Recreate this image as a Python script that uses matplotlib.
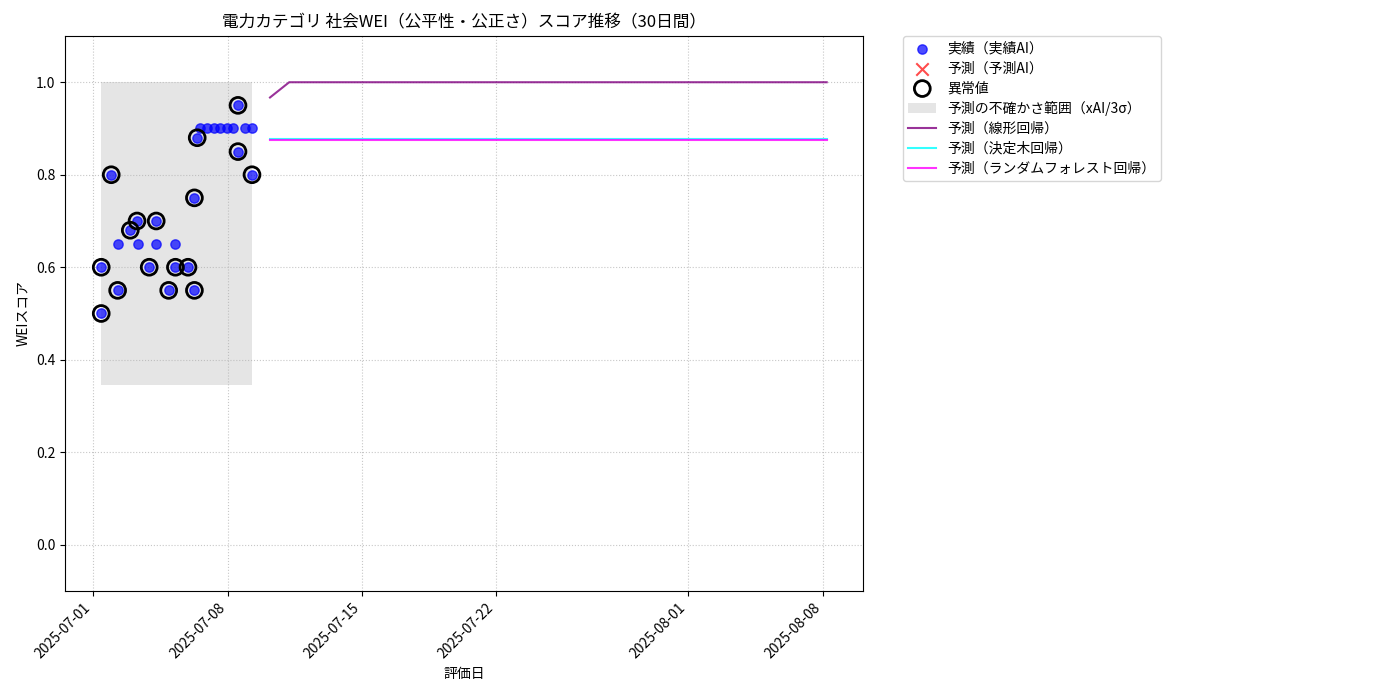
import matplotlib
matplotlib.use("Agg")
import matplotlib.pyplot as plt
import matplotlib.dates as mdates
import pandas as pd
import numpy as np

plt.rcParams['font.family'] = ['Noto Sans CJK JP', 'DejaVu Sans']

# ---- data ----
actual_times = [
    "2025-07-01 10:00", "2025-07-01 10:00", "2025-07-01 22:30",
    "2025-07-02 06:30", "2025-07-02 06:30", "2025-07-02 22:20",
    "2025-07-03 06:45", "2025-07-03 07:30", "2025-07-03 22:00",
    "2025-07-04 06:45", "2025-07-04 06:45", "2025-07-04 22:20",
    "2025-07-05 06:45", "2025-07-05 06:45", "2025-07-05 22:30",
    "2025-07-06 06:30", "2025-07-06 06:30", "2025-07-06 10:00",
    "2025-07-06 14:00", "2025-07-06 22:20", "2025-07-07 06:30",
    "2025-07-07 15:00", "2025-07-07 23:15", "2025-07-08 06:45",
    "2025-07-08 13:00", "2025-07-08 13:00", "2025-07-08 21:20",
    "2025-07-09 06:30", "2025-07-09 06:30",
]
actual_values = [
    0.50, 0.60, 0.80,
    0.55, 0.65, 0.68,
    0.70, 0.65, 0.60,
    0.70, 0.65, 0.55,
    0.60, 0.65, 0.60,
    0.75, 0.55, 0.88,
    0.90, 0.90, 0.90,
    0.90, 0.90, 0.90,
    0.95, 0.85, 0.90,
    0.90, 0.80,
]
outlier_flags = [
    1, 1, 1,
    1, 0, 1,
    1, 0, 1,
    1, 0, 1,
    1, 0, 1,
    1, 1, 1,
    0, 0, 0,
    0, 0, 0,
    1, 1, 0,
    0, 1,
]
band_lower = 0.346
band_upper = 1.0

forecast_start = "2025-07-10 05:00"
n_forecast = 30
linear_pred = [0.967] + [1.0] * 29
tree_pred = [0.878] * 30
forest_pred = [0.875] * 30

title = "電力カテゴリ 社会WEI（公平性・公正さ）スコア推移（30日間）"
xlabel = "評価日"
ylabel = "WEIスコア"

# ---- plot ----
t = pd.to_datetime(actual_times)
v = np.array(actual_values)
o = np.array(outlier_flags, dtype=bool)
ft = pd.date_range(forecast_start, periods=n_forecast, freq="D")

fig = plt.figure(figsize=(14, 7), dpi=100)
ax = fig.add_axes([0.0464, 0.1557, 0.570, 0.7929])

band = ax.fill_between([t.min(), t.max()], band_lower, band_upper,
                       color='gray', alpha=0.2, linewidth=0,
                       label="予測の不確かさ範囲（xAI/3σ）")
s1 = ax.scatter(t, v, color='blue', alpha=0.7, s=45, label="実績（実績AI）", zorder=3)
s2 = ax.scatter([], [], color='red', marker='x', alpha=0.7, s=80, label="予測（予測AI）")
s3 = ax.scatter(t[o], v[o], facecolors='none', edgecolors='black', s=130,
                linewidths=2, label="異常値", zorder=4)
l1, = ax.plot(ft, linear_pred, color='purple', alpha=0.8, linewidth=1.5, label="予測（線形回帰）")
l2, = ax.plot(ft, tree_pred, color='cyan', alpha=0.8, linewidth=1.5, label="予測（決定木回帰）")
l3, = ax.plot(ft, forest_pred, color='magenta', alpha=0.8, linewidth=1.5, label="予測（ランダムフォレスト回帰）")

ax.set_ylim(-0.1, 1.1)
ax.set_title(title, fontsize=12)
ax.set_xlabel(xlabel)
ax.set_ylabel(ylabel)
ax.grid(True, linestyle=':', alpha=0.7)
ax.xaxis.set_major_locator(mdates.AutoDateLocator())
ax.xaxis.set_major_formatter(mdates.DateFormatter('%Y-%m-%d'))
plt.setp(ax.get_xticklabels(), rotation=45, ha='right')

ax.legend(handles=[s1, s2, s3, band, l1, l2, l3],
          bbox_to_anchor=(1.05, 1), loc='upper left', borderaxespad=0,
          labelspacing=0.42)

fig.savefig("out.png", dpi=100)
